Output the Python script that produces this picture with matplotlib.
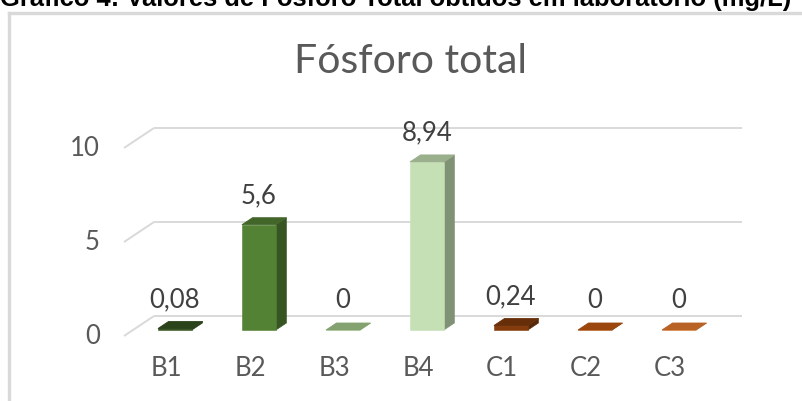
import numpy as np
import matplotlib
matplotlib.use("Agg")
import matplotlib.pyplot as plt
from matplotlib.patches import Polygon
from matplotlib.colors import to_rgb

# data
categories = ["B1", "B2", "B3", "B4", "C1", "C2", "C3"]
values = [0.08, 5.6, 0.0, 8.94, 0.24, 0.0, 0.0]
value_labels = ["0,08", "5,6", "0", "8,94", "0,24", "0", "0"]
bar_colors = ["#375623", "#548235", "#A9D08E", "#C5E0B4", "#843C0C", "#C55A11", "#ED7D31"]
yticks = [0, 5, 10]
title = "Fósforo total"
header = "Gráfico 4: Valores de Fósforo Total obtidos em laboratório (mg/L)"

W, H = 803, 401
PX_CAT = 84.0      # pixels per category
PX_VAL = 18.8      # pixels per unit of value
X0_PX = 166.0      # pixel x of first category
Y0_PX = 336.0      # pixel y (from top) of value 0 at the front of the floor

# oblique depth vector for the full floor depth, in data units
DX = 30.0 / PX_CAT
DY = 20.0 / PX_VAL
Z0, Z1 = 0.3, 0.65     # bar depth range
HW = 17.0 / PX_CAT     # half width of bar front

def shade(c, f):
    r, g, b = to_rgb(c)
    return (r * f, g * f, b * f)

fig = plt.figure(figsize=(W / 100, H / 100), dpi=100)
ax = fig.add_axes([0, 0, 1, 1])
ax.set_xlim(-X0_PX / PX_CAT, (W - X0_PX) / PX_CAT)
ax.set_ylim(-(H - Y0_PX) / PX_VAL, Y0_PX / PX_VAL)
ax.axis("off")

font = "Lato"
lab_size = 18.5
grid_c = "#d9d9d9"
x_left, x_right = -0.5, len(categories) - 0.5

# walls: diagonal on the side, horizontal along the back
for v in yticks:
    ax.plot([x_left, x_left + DX], [v, v + DY], color=grid_c, lw=1.4, zorder=1,
            solid_capstyle="butt")
    ax.plot([x_left + DX, x_right + DX], [v + DY, v + DY], color=grid_c, lw=1.4,
            zorder=1, solid_capstyle="butt")
    ax.text(x_left - 24 / PX_CAT, v, str(v), ha="right", va="center",
            fontsize=lab_size, color="#595959", family=font)

for i, (cat, v, lab, c) in enumerate(zip(categories, values, value_labels, bar_colors)):
    fx0 = i - HW + Z0 * DX
    fx1 = i + HW + Z0 * DX
    fy0 = Z0 * DY
    fy1 = v + Z0 * DY
    ddx = (Z1 - Z0) * DX
    ddy = (Z1 - Z0) * DY
    side = [(fx1, fy0), (fx1 + ddx, fy0 + ddy), (fx1 + ddx, fy1 + ddy), (fx1, fy1)]
    top = [(fx0, fy1), (fx1, fy1), (fx1 + ddx, fy1 + ddy), (fx0 + ddx, fy1 + ddy)]
    front = [(fx0, fy0), (fx1, fy0), (fx1, fy1), (fx0, fy1)]
    ax.add_patch(Polygon(side, closed=True, fc=shade(c, 0.65), ec=shade(c, 0.65),
                         lw=0.4, zorder=2))
    ax.add_patch(Polygon(front, closed=True, fc=c, ec=c, lw=0.4, zorder=3))
    ax.add_patch(Polygon(top, closed=True, fc=shade(c, 0.78), ec=shade(c, 0.78),
                         lw=0.6, zorder=3))
    ax.text(i + Z0 * DX, fy1 + 29 / PX_VAL, lab, ha="center", va="center",
            fontsize=lab_size, color="#404040", family=font)
    ax.text(i, -32 / PX_VAL, cat, ha="center", va="center",
            fontsize=lab_size, color="#595959", family=font)

# chart title
fig.text(411 / W, 1 - 73 / H, title, ha="center", va="baseline",
         fontsize=29.5, color="#595959", family=font)

# chart frame (cut off at the right and bottom)
fig.add_artist(plt.Line2D([9.5 / W, 9.5 / W], [0, 1 - 12.5 / H], color=grid_c, lw=2.4,
                          transform=fig.transFigure))
fig.add_artist(plt.Line2D([9.5 / W, 1], [1 - 12.5 / H, 1 - 12.5 / H], color=grid_c, lw=2.4,
                          transform=fig.transFigure))

# document caption above the chart, cropped by the image edge as in the source
fig.text(0, 1 - 6 / H, header, ha="left", va="baseline", fontsize=18.4,
         fontweight="bold", color="black", family="Liberation Sans")

fig.savefig("out.png", dpi=100)
